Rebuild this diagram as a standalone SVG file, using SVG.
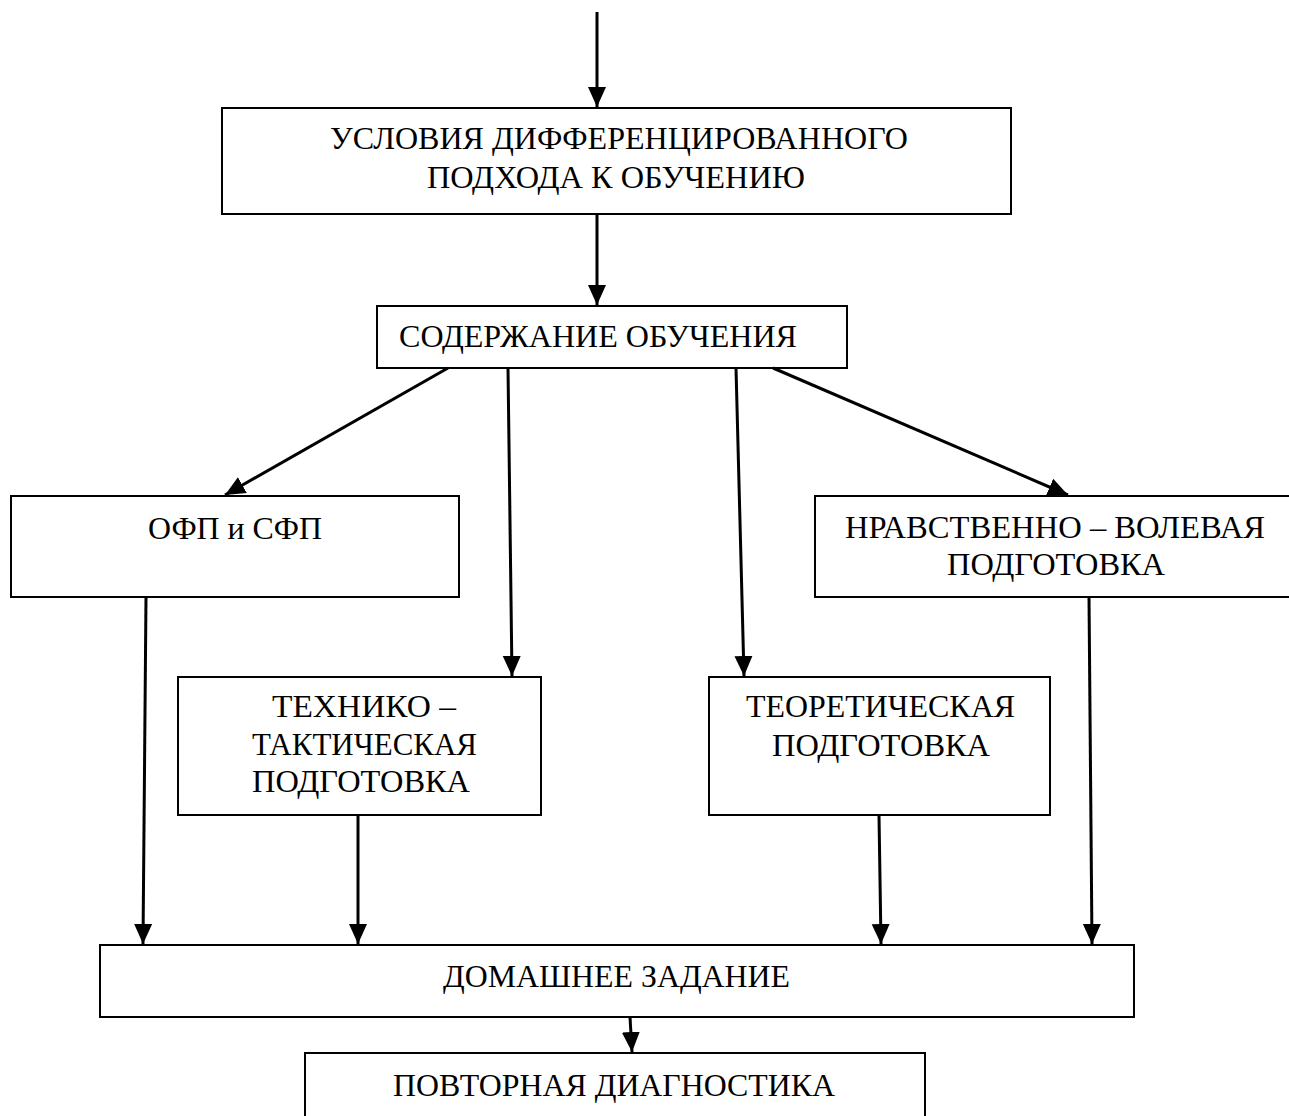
<svg xmlns="http://www.w3.org/2000/svg" width="1289" height="1116" viewBox="0 0 1289 1116">
<style>
.box{fill:#fff;stroke:#000;stroke-width:2}
.lbl{font-family:"Liberation Serif","Times New Roman",serif;font-size:32px;fill:#000}
.con{stroke:#000;stroke-width:3;fill:none}
</style>
<defs>
<marker id="ah" markerUnits="userSpaceOnUse" markerWidth="20" markerHeight="20" viewBox="0 0 20 20" refX="20" refY="10" orient="auto">
<path d="M0,1 L20,10 L0,19 Z" fill="#000"/>
</marker>
</defs>
<rect width="1289" height="1116" fill="#fff"/>
<g id="n-usloviya">
<rect class="box" x="222" y="108" width="789" height="106"/>
<text class="lbl" x="330" y="149" textLength="578" lengthAdjust="spacingAndGlyphs">УСЛОВИЯ ДИФФЕРЕНЦИРОВАННОГО</text>
<text class="lbl" x="427" y="188" textLength="378" lengthAdjust="spacingAndGlyphs">ПОДХОДА К ОБУЧЕНИЮ</text>
</g>
<g id="n-soderzhanie">
<rect class="box" x="377" y="306" width="470" height="62"/>
<text class="lbl" x="399" y="347" textLength="398" lengthAdjust="spacingAndGlyphs">СОДЕРЖАНИЕ ОБУЧЕНИЯ</text>
</g>
<g id="n-ofp">
<rect class="box" x="11" y="496" width="448" height="101"/>
<text class="lbl" x="148" y="539" textLength="174" lengthAdjust="spacingAndGlyphs">ОФП и СФП</text>
</g>
<g id="n-nravstvenno">
<rect class="box" x="815" y="496" width="480" height="101"/>
<text class="lbl" x="845" y="538" textLength="420" lengthAdjust="spacingAndGlyphs">НРАВСТВЕННО – ВОЛЕВАЯ</text>
<text class="lbl" x="947" y="575" textLength="218" lengthAdjust="spacingAndGlyphs">ПОДГОТОВКА</text>
</g>
<g id="n-tehniko">
<rect class="box" x="178" y="677" width="363" height="138"/>
<text class="lbl" x="272" y="717" textLength="184" lengthAdjust="spacingAndGlyphs">ТЕХНИКО –</text>
<text class="lbl" x="252" y="755" textLength="225" lengthAdjust="spacingAndGlyphs">ТАКТИЧЕСКАЯ</text>
<text class="lbl" x="252" y="792" textLength="218" lengthAdjust="spacingAndGlyphs">ПОДГОТОВКА</text>
</g>
<g id="n-teoreticheskaya">
<rect class="box" x="709" y="677" width="341" height="138"/>
<text class="lbl" x="746" y="717" textLength="269" lengthAdjust="spacingAndGlyphs">ТЕОРЕТИЧЕСКАЯ</text>
<text class="lbl" x="772" y="756" textLength="218" lengthAdjust="spacingAndGlyphs">ПОДГОТОВКА</text>
</g>
<g id="n-domashnee">
<rect class="box" x="100" y="945" width="1034" height="72"/>
<text class="lbl" x="443" y="987" textLength="347" lengthAdjust="spacingAndGlyphs">ДОМАШНЕЕ ЗАДАНИЕ</text>
</g>
<g id="n-povtornaya">
<rect class="box" x="305" y="1053" width="620" height="80"/>
<text class="lbl" x="393" y="1096" textLength="442" lengthAdjust="spacingAndGlyphs">ПОВТОРНАЯ ДИАГНОСТИКА</text>
</g>
<g id="connectors">
<line class="con" x1="597" y1="12" x2="597" y2="107" marker-end="url(#ah)"/>
<line class="con" x1="597" y1="214" x2="597" y2="305" marker-end="url(#ah)"/>
<line class="con" x1="448" y1="368" x2="225" y2="495" marker-end="url(#ah)"/>
<line class="con" x1="508" y1="368" x2="512" y2="676" marker-end="url(#ah)"/>
<line class="con" x1="736" y1="368" x2="744" y2="676" marker-end="url(#ah)"/>
<line class="con" x1="773" y1="368" x2="1068" y2="495" marker-end="url(#ah)"/>
<line class="con" x1="146" y1="597" x2="143" y2="944" marker-end="url(#ah)"/>
<line class="con" x1="358" y1="815" x2="358" y2="944" marker-end="url(#ah)"/>
<line class="con" x1="879" y1="815" x2="881" y2="944" marker-end="url(#ah)"/>
<line class="con" x1="1089" y1="597" x2="1092" y2="944" marker-end="url(#ah)"/>
<line class="con" x1="630" y1="1017" x2="632" y2="1052" marker-end="url(#ah)"/>
</g>
</svg>
